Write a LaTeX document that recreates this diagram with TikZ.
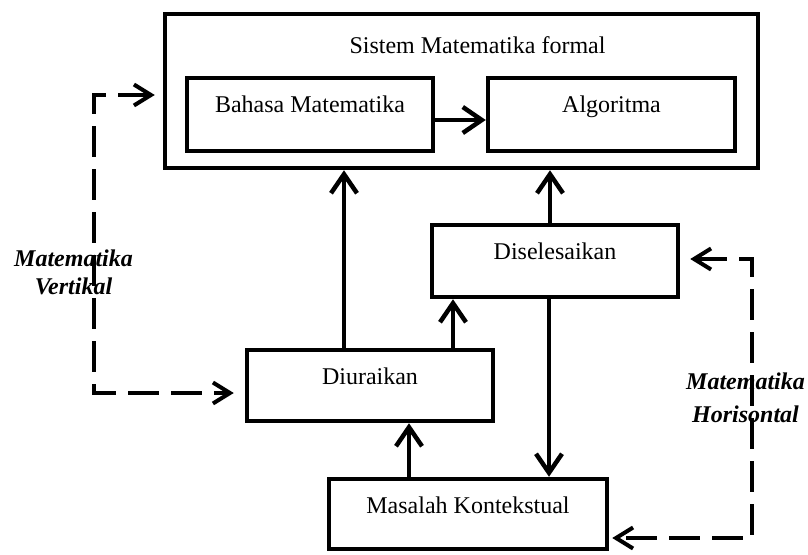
\documentclass[tikz,border=0pt]{standalone}
\usepackage{fontspec}
\setmainfont{Liberation Serif}
\usetikzlibrary{arrows.meta}

\begin{document}
\begin{tikzpicture}[x=1pt,y=-1pt,
    font=\fontsize{24}{28}\selectfont,
    kotak/.style={draw, line width=4.5pt, inner sep=0pt, text height=34pt, text depth=38pt, minimum width=246pt, anchor=north},
    panah/.style={line width=4.5pt, -{Straight Barb[length=19pt,width=26pt]}},
    putus/.style={line width=4pt, dash pattern=on 31pt off 12pt, {Straight Barb[length=17pt,width=21pt]}-{Straight Barb[length=17pt,width=21pt]}},
    miring/.style={font=\fontsize{24}{#1}\selectfont\bfseries\itshape, align=center}]
    \useasboundingbox (0,0) rectangle (808,554);

    % Sistem Matematika formal
    \node[kotak, minimum width=593pt, text height=0pt, text depth=154pt] (sistem) at (461.5,11.75) {};
    \node[anchor=base] (judul) at (477.5,53) {Sistem Matematika formal};
    \node[kotak, text depth=39pt] (bahasa) at (310,75.75) {Bahasa Matematika};
    \node[kotak, minimum width=247pt, text depth=39pt] (algoritma) at (611.5,75.75) {Algoritma};

    % Langkah-langkah
    \node[kotak] (diselesaikan) at (555,222.75) {Diselesaikan};
    \node[kotak, text depth=37pt] (diuraikan) at (370,347.75) {Diuraikan};
    \node[kotak, minimum width=278pt, text depth=36pt] (masalah) at (468,476.75) {Masalah Kontekstual};

    % Panah
    \coordinate (p) at ([yshift=-5.5pt]bahasa.east);
    \draw[panah] (p) -- (p -| algoritma.west);
    \foreach \dari/\ke/\geser in {diuraikan/sistem/-26, diuraikan/diselesaikan/83, masalah/diuraikan/-59, diselesaikan/sistem/-5} {
        \coordinate (p) at ([xshift=\geser pt]\dari.north);
        \draw[panah] (p) -- (p |- \ke.south);
    }
    \coordinate (p) at ([xshift=-6pt]diselesaikan.south);
    \draw[panah] (p) -- (p |- masalah.north);

    % Matematika vertikal
    \coordinate (vatas) at (94,95);
    \coordinate (vbawah) at (94,393);
    \draw[putus] ([xshift=-8pt]sistem.west |- vatas) -- (vatas) -- (vbawah) -- ([xshift=-11pt]diuraikan.west |- vbawah);
    \node[miring=28] (vertikal) at (73.5,272.8) {Matematika\\Vertikal};

    % Matematika horisontal
    \coordinate (hatas) at (752,259);
    \coordinate (hbawah) at (752,538);
    \draw[putus] ([xshift=10pt]diselesaikan.east |- hatas) -- (hatas) -- (hbawah) -- ([xshift=3pt]masalah.east |- hbawah);
    \node[miring=33] (horisontal) at (745.5,397.3) {Matematika\\Horisontal};
\end{tikzpicture}
\end{document}
